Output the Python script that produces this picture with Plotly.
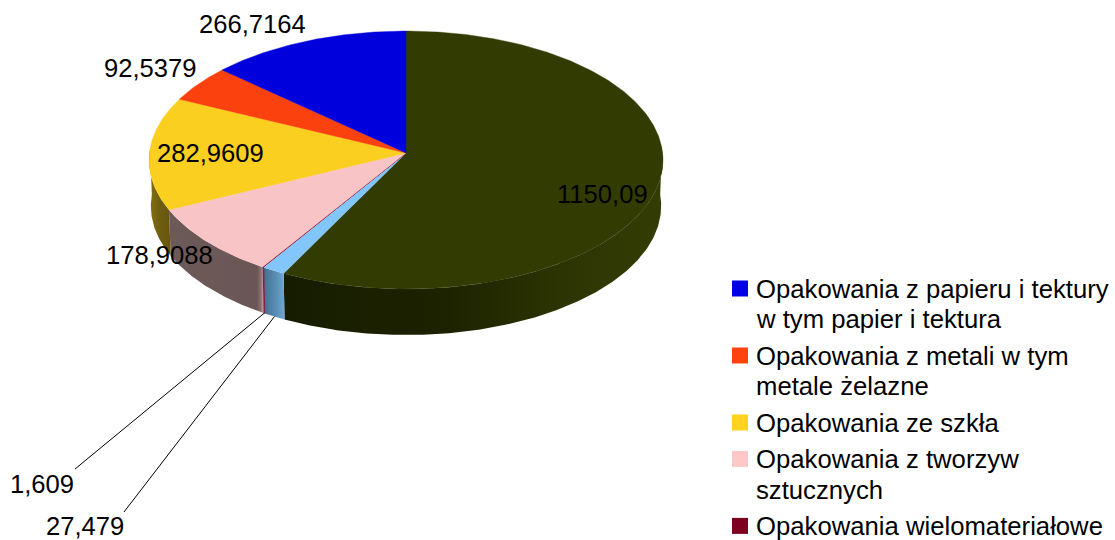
import math
import plotly.graph_objects as go

# ---- data (clockwise from 12 o'clock) ----
slice_names = ["Opakowania inne", "Opakowania z drewna", "Opakowania wielomateriałowe",
               "Opakowania z tworzyw sztucznych", "Opakowania ze szkła",
               "Opakowania z metali w tym metale żelazne",
               "Opakowania z papieru i tektury w tym papier i tektura"]
slice_values = [1150.09, 27.479, 1.609, 178.9088, 282.9609, 92.5379, 266.7164]
value_labels = ["1150,09", "27,479", "1,609", "178,9088", "282,9609", "92,5379", "266,7164"]
top_colors = ["#323c02", "#83c6fb", "#7e0021", "#f9c4c6", "#facf20", "#fb420e", "#0000dc"]

legend_lines = [["Opakowania z papieru i tektury", "w tym papier i tektura"],
                ["Opakowania z metali w tym", "metale żelazne"],
                ["Opakowania ze szkła"],
                ["Opakowania z tworzyw", "sztucznych"],
                ["Opakowania wielomateriałowe"]]
legend_colors = ["#0000e6", "#ff420e", "#ffd320", "#ffc8c8", "#7e0021"]

# ---- geometry of the tilted disc ----
CX, APEX_Y, SX, SY, K = 406, 153, 256.6, 128.6, 0.0543
DEPTH, BOTTOM_X_SCALE = 46, 0.993
FONT = "Liberation Sans"


def project(theta, bottom=False):
    d = 1 + K * math.cos(theta)
    scale = BOTTOM_X_SCALE if bottom else 1
    return (CX + SX * scale * math.sin(theta) / d,
            APEX_Y + SY * math.cos(theta) * -1 / d + (DEPTH if bottom else 0))


total = sum(slice_values)
edges = [0.0]
for v in slice_values:
    edges.append(edges[-1] + v / total * 2 * math.pi)


def arc(a, b, bottom=False):
    n = max(2, int((b - a) / math.radians(0.5)))
    return [project(a + (b - a) * i / n, bottom) for i in range(n + 1)]


# side-wall shading: horizontal gradient stops by slice
side_shades = {
    0: [(0.0, "#161c00"), (0.44, "#1d2300"), (0.73, "#2c3404"), (0.85, "#303904"), (1.0, "#333c03")],
    1: [(0.0, "#44708f"), (0.6, "#5a8fb5"), (1.0, "#6fa8d2")],
    2: [(0.0, "#7e2040"), (1.0, "#7e2040")],
    3: [(0.0, "#6b5a58"), (0.93, "#6b5656"), (0.97, "#8a7070"), (1.0, "#c4a6a8")],
    4: [(0.0, "#85710f"), (0.5, "#6f5e10"), (1.0, "#665510")],
}

fig = go.Figure()

# side walls
for i, stops in side_shades.items():
    a, b = edges[i], edges[i + 1]
    # the wall of a slice is visible only where the disc faces the viewer
    a = max(a, math.radians(88))
    b = min(b, math.radians(272))
    top = arc(a, b)
    low = arc(a, b, True)
    poly = top + low[::-1] + top[:1]
    xs = [p[0] for p in poly]
    fig.add_trace(go.Scatter(
        x=xs, y=[p[1] for p in poly], mode="lines",
        line=dict(width=1 if slice_values[i] < 5 else 0, color=stops[0][1]), fill="toself",
        fillgradient=dict(type="horizontal", colorscale=stops, start=min(xs), stop=max(xs)),
        hoverinfo="skip", showlegend=False))

# top faces
apex = (CX, APEX_Y)
for i, v in enumerate(slice_values):
    poly = [apex] + arc(edges[i], edges[i + 1]) + [apex]
    fig.add_trace(go.Scatter(
        x=[p[0] for p in poly], y=[p[1] for p in poly], mode="lines",
        line=dict(width=0.4 if v > 5 else 1, color=top_colors[i]),
        fill="toself", fillcolor=top_colors[i], name=slice_names[i],
        hoverinfo="name", showlegend=False))

# leader lines
for mid_index, end in ((2, (75, 469)), (1, (124, 512))):
    mid = (edges[mid_index] + edges[mid_index + 1]) / 2
    p = project(mid, True)
    fig.add_trace(go.Scatter(x=[p[0], end[0]], y=[p[1], end[1]], mode="lines",
                             line=dict(color="#000000", width=1), hoverinfo="skip", showlegend=False))

annotations = []


def add_text(text, x, y, anchor="left", size=25.6):
    annotations.append(dict(text=text, x=x, y=y, xref="x", yref="y", showarrow=False,
                            xanchor=anchor, yanchor="middle",
                            font=dict(family=FONT, size=size, color="#000000")))


# value labels
label_positions = {0: (602.5, 194), 1: (85, 526), 2: (41.5, 484), 3: (159, 255),
                   4: (210, 153), 5: (150, 68), 6: (252, 24)}
for i, pos in label_positions.items():
    add_text(value_labels[i], pos[0], pos[1], "center")

# legend
legend_y = 288.5
key_x, key_y = [], []
line_gap = 30.6
block_gap = 36.4
y = legend_y
for lines, col in zip(legend_lines, legend_colors):
    key_x.append(740)
    key_y.append(y)
    for j, line in enumerate(lines):
        add_text(line, 753.5, y + j * line_gap, size=25.7)
    y += (len(lines) - 1) * line_gap + block_gap
fig.add_trace(go.Scatter(x=key_x, y=key_y, mode="markers",
                         marker=dict(symbol="square", size=16, color=legend_colors, line=dict(width=0)),
                         hoverinfo="skip", showlegend=False))

fig.update_layout(
    width=1115, height=540, margin=dict(l=0, r=0, t=0, b=0),
    paper_bgcolor="#ffffff", plot_bgcolor="#ffffff", showlegend=False,
    annotations=annotations,
    xaxis=dict(range=[0, 1115], visible=False, fixedrange=True),
    yaxis=dict(range=[540, 0], visible=False, fixedrange=True),
)
fig.write_html("out.html", config={"displayModeBar": False},
               post_script="document.body.style.margin='0';document.body.style.overflow='hidden';")
